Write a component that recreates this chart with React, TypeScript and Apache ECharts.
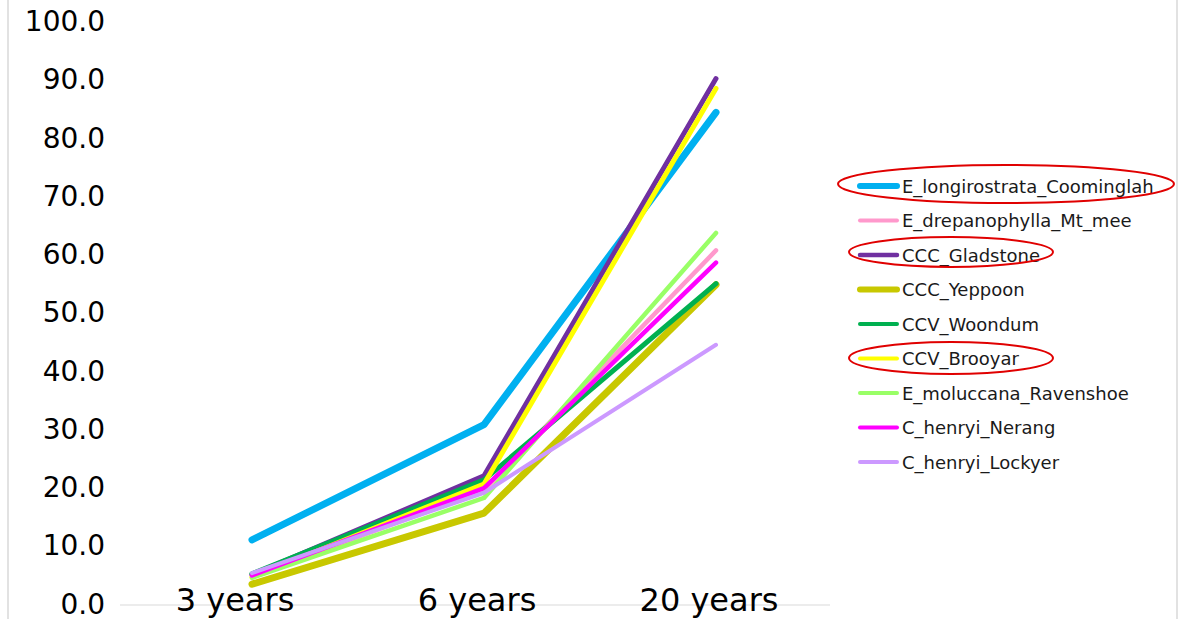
import React, { useEffect, useRef } from "react";
import * as echarts from "echarts";

const categories = ["3 years", "6 years", "20 years"];
const seriesNames = [
  "E_longirostrata_Coominglah",
  "E_drepanophylla_Mt_mee",
  "CCC_Gladstone",
  "CCC_Yeppoon",
  "CCV_Woondum",
  "CCV_Brooyar",
  "E_moluccana_Ravenshoe",
  "C_henryi_Nerang",
  "C_henryi_Lockyer",
];
const coominglah = [11.0, 30.8, 84.4];
const mtMee = [4.8, 19.5, 60.7];
const gladstone = [5.0, 22.0, 90.2];
const yeppoon = [3.4, 15.6, 54.8];
const woondum = [5.2, 21.3, 55.0];
const brooyar = [4.6, 20.6, 88.5];
const ravenshoe = [4.5, 18.2, 63.7];
const nerang = [4.9, 19.9, 58.6];
const lockyer = [5.3, 19.1, 44.5];
const seriesValues = [coominglah, mtMee, gladstone, yeppoon, woondum, brooyar, ravenshoe, nerang, lockyer];
const colors = ["#00B0F0", "#FF99CC", "#7030A0", "#C8C800", "#00B050", "#FFFF00", "#99FF66", "#FF00FF", "#CC99FF"];
const widths = [7, 4.5, 5, 7, 5, 5, 4.5, 4.5, 4];
const legendWidths = [6, 4, 4.5, 6, 4, 4, 4, 4, 4];
const circled = ["E_longirostrata_Coominglah", "CCC_Gladstone", "CCV_Brooyar"];

export default function App() {
  const ref = useRef<HTMLDivElement>(null);
  useEffect(() => {
    if (!ref.current) return;
    const chart = echarts.init(ref.current, null, { renderer: "svg" });
    const labelFont = { fontSize: 32, fontFamily: "DejaVu Sans", color: "#000000" };
    const ellipses = [
      { cx: 1006, cy: 184, rx: 168, ry: 19 },
      { cx: 951, cy: 252, rx: 102, ry: 15 },
      { cx: 951, cy: 358, rx: 102, ry: 16 },
    ];
    chart.setOption({
      animation: false,
      backgroundColor: "#ffffff",
      grid: { left: 252, right: 462, top: 21.5, bottom: 15 },
      xAxis: {
        type: "category",
        data: categories,
        boundaryGap: false,
        axisLine: { show: false },
        axisTick: { show: false },
        axisLabel: {
          interval: 0,
          hideOverlap: false,
          margin: -20,
          ...labelFont,
          formatter: (v: string, i: number) => (i === 0 ? `{f|${v}}` : `{o|${v}}`),
          rich: {
            f: { ...labelFont, padding: [0, 34, 0, 0] },
            o: { ...labelFont, padding: [0, 14, 0, 0] },
          },
        },
      },
      yAxis: {
        type: "value",
        min: 0,
        max: 100,
        interval: 10,
        splitLine: { show: false },
        axisLine: { show: false },
        axisTick: { show: false },
        axisLabel: {
          margin: 147,
          fontSize: 28,
          fontFamily: "DejaVu Sans",
          color: "#000000",
          formatter: (v: number) => v.toFixed(1),
        },
      },
      legend: {
        orient: "vertical",
        left: 852,
        top: 172,
        itemWidth: 37,
        itemHeight: 20,
        itemGap: 16.5,
        data: seriesNames.map((name, i) => ({
          name,
          lineStyle: { width: legendWidths[i], color: colors[i], cap: "round" },
        })),
        itemStyle: { opacity: 0 },
        textStyle: { fontSize: 18, fontFamily: "DejaVu Sans", color: "#1a1a1a" },
      },
      series: seriesNames.map((name, i) => ({
        name,
        type: "line",
        data: seriesValues[i],
        symbol: "none",
        color: colors[i],
        lineStyle: { color: colors[i], width: widths[i], cap: "round", join: "round" },
      })),
      graphic: [
        { type: "line", shape: { x1: 8, y1: 0, x2: 8, y2: 619 }, style: { stroke: "#d9d9d9", lineWidth: 1.5 } },
        { type: "line", shape: { x1: 1177, y1: 0, x2: 1177, y2: 619 }, style: { stroke: "#d9d9d9", lineWidth: 1.5 } },
        { type: "line", shape: { x1: 120, y1: 605, x2: 830, y2: 605 }, style: { stroke: "#d9d9d9", lineWidth: 1 } },
        ...ellipses.map((e, i) => ({
          type: "ellipse",
          name: circled[i],
          shape: e,
          style: { fill: "none", stroke: "#E00000", lineWidth: 2 },
          z: 100,
        })),
      ],
    });
    return () => chart.dispose();
  }, []);
  return (
    <div
      ref={ref}
      style={{ position: "absolute", left: 0, top: 0, width: 1178, height: 619 }}
    />
  );
}
